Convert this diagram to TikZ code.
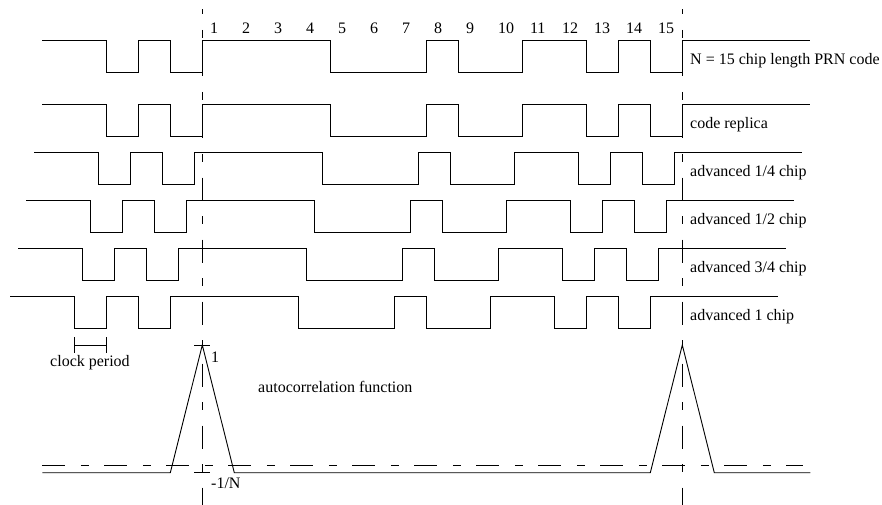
\documentclass[tikz,border=0pt]{standalone}
\usepackage{fontspec}
\setmainfont{Liberation Serif}
\usetikzlibrary{positioning}

% one period of the PRN code plus the chips around it
\newcommand{\prnwave}[1]{%
  \draw[wave, #1] (-160,0) -- (-96,0) -- (-96,32) -- (-64,32) -- (-64,0)
    -- (-32,0) -- (-32,32) -- (0,32) -- (0,0) -- (128,0) -- (128,32)
    -- (224,32) -- (224,0) -- (256,0) -- (256,32) -- (320,32) -- (320,0)
    -- (384,0) -- (384,32) -- (416,32) -- (416,0) -- (448,0) -- (448,32)
    -- (480,32) -- (480,0) -- (608,0);}

\begin{document}
\begin{tikzpicture}[
    x=1pt, y=-1pt,
    wave/.style={line width=0.9pt},
    refline/.style={line width=0.9pt,
        dash pattern=on 23pt off 15.5pt on 8pt off 15.5pt},
    lbl/.style={anchor=base west, inner sep=0pt,
        font=\fontsize{16}{19}\selectfont}
]
\useasboundingbox (0,0) rectangle (882,505);

% chip numbers
\foreach \k in {1,...,15}
    \node[lbl] (chip\k) at ({202.3+32*(\k-1)+7.5}, 33.3) {\k};

% code, replica and advanced copies
\foreach \dx/\yh in {0/40.7, 0/104.7, 8/152.7, 16/200.7, 24/248.7, 32/296.7}{
    \prnwave{shift={(202.3-\dx,\yh)}}
}

\node[lbl] (code) at (690,64.7) {N = 15 chip length PRN code};
\node[lbl] (replica) at (690,128.7) {code replica};
\node[lbl] (adv1) at (690,176.7) {advanced 1/4 chip};
\node[lbl] (adv2) at (690,224.7) {advanced 1/2 chip};
\node[lbl] (adv3) at (690,272.7) {advanced 3/4 chip};
\node[lbl] (adv4) at (690,320.7) {advanced 1 chip};

% start of each code period
\coordinate (epAtop) at (202.3,9.3);
\coordinate (epAbot) at (202.3,505);
\coordinate (epBtop) at (682.3,9.3);
\coordinate (epBbot) at (682.3,505);
\draw[refline, dash phase=17.8pt] (epAtop) -- (epAbot);
\draw[refline, dash phase=17.8pt] (epBtop) -- (epBbot);

% clock period
\coordinate (clkL) at (74.3,345);
\coordinate (clkR) at (106.3,345);
\draw[wave] (clkL) -- (clkR);
\draw[wave] ([yshift=8pt]clkL) -- ([yshift=-8pt]clkL);
\draw[wave] ([yshift=8pt]clkR) -- ([yshift=-8pt]clkR);
\node[lbl] (clk) at (50,366.7) {clock period};

% autocorrelation function
\coordinate (zeroL) at (42.3,465);
\coordinate (zeroR) at (803.3,465);
\draw[refline] (zeroL) -- (zeroR);
\coordinate (peakA) at (202.3,345);
\coordinate (peakB) at (682.3,345);
\draw[wave] (42.3,472.7) -- (170.3,472.7) -- (peakA) -- (234.3,472.7)
    -- (650.3,472.7) -- (peakB) -- (714.3,472.7) -- (810.3,472.7);
\draw[wave] ([xshift=-8pt]peakA) -- ([xshift=8pt]peakA);
\draw[wave] (194.3,472.7) -- (210.3,472.7);
\node[lbl] (one) at (211,362) {1};
\node[lbl] (minus) at (211,488) {-1/N};
\node[lbl] (acf) at (258,392.7) {autocorrelation function};

\end{tikzpicture}
\end{document}
